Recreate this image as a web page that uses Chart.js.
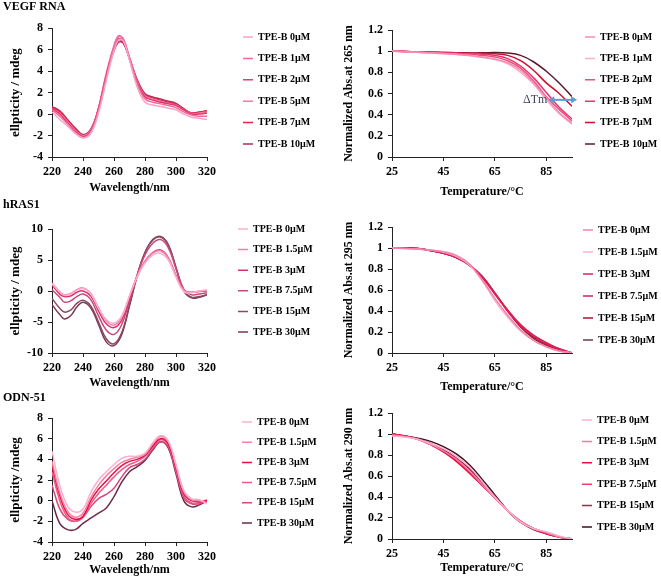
<!DOCTYPE html>
<html>
<head>
<meta charset="utf-8">
<script src="https://cdn.jsdelivr.net/npm/chart.js@4.4.1/dist/chart.umd.min.js"></script>
<style>
  html, body { margin: 0; padding: 0; background: #fff; }
  #wrap { position: relative; width: 661px; height: 580px; overflow: hidden; }
  canvas { position: absolute; }
</style>
</head>
<body>
<div id="wrap">
  <canvas id="c1" width="330" height="196" style="left:0;top:0"></canvas>
  <canvas id="c2" width="331" height="200" style="left:330px;top:0"></canvas>
  <canvas id="c3" width="330" height="195" style="left:0;top:196px"></canvas>
  <canvas id="c4" width="331" height="200" style="left:330px;top:196px"></canvas>
  <canvas id="c5" width="330" height="190" style="left:0;top:390px"></canvas>
  <canvas id="c6" width="331" height="190" style="left:330px;top:390px"></canvas>
</div>
<script>
const serif = '"Liberation Serif", "Times New Roman", serif';
Chart.defaults.font.family = serif;
Chart.defaults.font.weight = 'bold';
Chart.defaults.color = '#000';

// legend labels
const vegfLabels = ['TPE-B 0µM', 'TPE-B 1µM', 'TPE-B 2µM', 'TPE-B 5µM', 'TPE-B 7µM', 'TPE-B 10µM'];
const rasLabels = ['TPE-B 0µM', 'TPE-B 1.5µM', 'TPE-B 3µM', 'TPE-B 7.5µM', 'TPE-B 15µM', 'TPE-B 30µM'];
const odnLabels = ['TPE-B 0µM', 'TPE-B 1.5µM', 'TPE-B 3µM', 'TPE-B 7.5µM', 'TPE-B 15µM', 'TPE-B 30µM'];

// ticks
const wlTicks = [220, 240, 260, 280, 300, 320];
const tempTicks = [25, 45, 65, 85];
const cdTicks8 = [-4, -2, 0, 2, 4, 6, 8];
const cdTicks10 = [-10, -5, 0, 5, 10];
const absTicks = [0, 0.2, 0.4, 0.6, 0.8, 1, 1.2];

// VEGF RNA - CD spectra
const wlVegf = [220, 225, 230, 235, 240, 245, 250, 255, 260, 263, 266, 270, 275, 280, 285, 290, 295, 300, 305, 310, 315, 320];
const vegfCd = [
  [0.2, -0.5, -1.1, -1.8, -2.2, -1.8, 0.1, 3.1, 5.9, 6.9, 6.8, 5.0, 2.5, 1.1, 0.85, 0.7, 0.55, 0.4, 0.0, -0.3, -0.4, -0.5],
  [0.4, -0.2, -0.9, -1.7, -2.2, -1.7, 0.3, 3.4, 6.3, 7.2, 7.0, 5.2, 2.8, 1.4, 1.1, 0.95, 0.8, 0.6, 0.2, -0.1, -0.2, -0.2],
  [0.5, 0.0, -0.8, -1.6, -2.1, -1.6, 0.5, 3.6, 6.2, 7.0, 6.8, 5.1, 2.9, 1.6, 1.3, 1.1, 0.95, 0.8, 0.4, 0.0, 0.0, 0.1],
  [0.5, 0.1, -0.7, -1.5, -2.0, -1.5, 0.6, 3.8, 6.4, 7.3, 7.0, 5.3, 3.0, 1.7, 1.4, 1.2, 1.0, 0.85, 0.4, 0.05, 0.1, 0.2],
  [0.6, 0.2, -0.6, -1.4, -2.0, -1.5, 0.5, 3.6, 6.1, 6.9, 6.7, 5.2, 3.1, 1.8, 1.5, 1.3, 1.1, 0.9, 0.45, 0.1, 0.15, 0.3],
  [0.7, 0.3, -0.5, -1.3, -1.9, -1.4, 0.5, 3.5, 5.9, 6.7, 6.6, 5.2, 3.2, 1.9, 1.6, 1.4, 1.2, 1.0, 0.5, 0.1, 0.2, 0.3],
];
const vegfCdColors = ['#f9a3c9', '#f06a9a', '#e23a6c', '#f07aa0', '#e8204e', '#a83058'];

// VEGF RNA - melting at 265 nm
const tempVegf = [25, 30, 35, 40, 45, 50, 55, 60, 65, 70, 75, 80, 85, 90, 95];
const vegfMelt = [
  [1, 0.995, 0.99, 0.983, 0.977, 0.97, 0.96, 0.945, 0.925, 0.89, 0.82, 0.7, 0.56, 0.42, 0.32],
  [1, 0.995, 0.99, 0.982, 0.975, 0.968, 0.958, 0.94, 0.92, 0.88, 0.8, 0.69, 0.54, 0.41, 0.31],
  [1, 0.996, 0.99, 0.985, 0.98, 0.975, 0.97, 0.96, 0.945, 0.91, 0.84, 0.72, 0.57, 0.45, 0.34],
  [1, 0.997, 0.993, 0.99, 0.985, 0.982, 0.978, 0.972, 0.96, 0.93, 0.86, 0.75, 0.61, 0.47, 0.36],
  [1, 0.997, 0.993, 0.99, 0.987, 0.985, 0.982, 0.98, 0.975, 0.96, 0.91, 0.82, 0.7, 0.6, 0.48],
  [1, 0.997, 0.993, 0.99, 0.988, 0.986, 0.984, 0.984, 0.988, 0.982, 0.96, 0.9, 0.81, 0.7, 0.57],
];
const vegfMeltColors = ['#f48cb4', '#fbb0cf', '#e8507e', '#e8336b', '#c8102e', '#5c1a2c'];
const tmArrow = { from: 85.8, to: 97, at: 0.54 };

// hRAS1 - CD spectra
const wlRas = [220, 225, 228, 232, 236, 240, 245, 250, 255, 260, 265, 270, 275, 280, 285, 290, 295, 300, 305, 310, 315, 320];
const rasCd = [
  [1.2, -0.2, -0.7, -0.5, 0.1, 0.4, -0.5, -2.8, -4.6, -5.2, -4.0, -0.8, 2.3, 4.5, 5.8, 6.1, 5.0, 2.2, -0.1, -0.3, 0.0, 0.2],
  [1.3, -0.1, -0.6, -0.4, 0.2, 0.5, -0.4, -2.7, -4.8, -5.5, -4.2, -0.8, 2.5, 4.8, 6.1, 6.5, 5.3, 2.5, 0.1, -0.2, 0.0, 0.1],
  [1.0, -0.5, -0.9, -0.8, -0.2, 0.0, -0.8, -3.2, -5.3, -5.9, -4.7, -1.2, 2.3, 4.8, 6.2, 6.6, 5.4, 2.5, 0.1, -0.2, -0.1, 0.0],
  [0.2, -1.0, -1.8, -1.6, -0.9, -0.5, -1.4, -4.0, -6.3, -7.0, -5.4, -1.5, 2.6, 5.8, 7.7, 8.3, 7.0, 3.6, 0.3, -0.6, -0.5, -0.3],
  [-1.2, -2.8, -3.4, -3.1, -2.0, -1.5, -2.4, -5.0, -7.7, -8.5, -6.7, -2.2, 2.6, 6.2, 8.2, 8.7, 7.4, 3.8, 0.1, -1.0, -0.9, -0.6],
  [-2.2, -3.8, -4.5, -4.0, -2.6, -1.8, -2.7, -5.4, -8.2, -8.8, -7.0, -2.4, 2.5, 6.2, 8.3, 8.8, 7.5, 3.7, 0.0, -1.1, -1.0, -0.6],
];
const rasCdColors = ['#fbb0cf', '#f480aa', '#e0306a', '#c84a7a', '#8c4a62', '#7a3a52'];

// hRAS1 - melting at 295 nm
const tempRas = [25, 30, 35, 40, 45, 50, 55, 60, 65, 70, 75, 80, 85, 90, 95];
const rasMelt = [
  [1, 0.995, 0.99, 0.98, 0.965, 0.93, 0.85, 0.7, 0.52, 0.36, 0.22, 0.12, 0.06, 0.02, 0],
  [1, 0.995, 0.99, 0.98, 0.96, 0.92, 0.84, 0.69, 0.5, 0.34, 0.21, 0.12, 0.06, 0.02, 0],
  [1, 1, 0.995, 0.977, 0.95, 0.91, 0.84, 0.72, 0.56, 0.4, 0.26, 0.16, 0.09, 0.04, 0],
  [1, 1, 0.995, 0.977, 0.952, 0.91, 0.84, 0.73, 0.57, 0.41, 0.27, 0.17, 0.1, 0.04, 0],
  [1, 1, 0.995, 0.976, 0.95, 0.91, 0.84, 0.73, 0.57, 0.4, 0.25, 0.15, 0.08, 0.03, 0],
  [1, 1, 0.995, 0.975, 0.95, 0.91, 0.84, 0.73, 0.57, 0.4, 0.25, 0.14, 0.07, 0.03, 0],
];
const rasMeltColors = ['#f480aa', '#fbb0cf', '#e0205a', '#d81e50', '#b0102e', '#6a3a48'];

// ODN-51 - CD spectra
const wlOdn = [220, 225, 230, 235, 240, 245, 250, 255, 260, 265, 270, 275, 280, 285, 290, 295, 300, 305, 310, 315, 320];
const odnCd = [
  [4.8, 1.5, -0.5, -1.1, -0.8, 0.8, 2.0, 2.8, 3.5, 4.1, 4.3, 4.3, 4.6, 5.6, 6.3, 5.8, 3.5, 1.0, 0.2, 0.1, -0.3],
  [3.8, 0.8, -1.0, -1.6, -1.2, 0.3, 1.5, 2.4, 3.1, 3.7, 4.0, 4.2, 4.5, 5.5, 6.2, 5.7, 3.4, 0.9, 0.1, 0.0, -0.2],
  [3.4, 0.5, -1.3, -1.8, -1.5, 0.0, 1.1, 1.9, 2.7, 3.4, 3.8, 4.0, 4.4, 5.3, 6.0, 5.5, 3.2, 0.7, 0.0, -0.1, 0.0],
  [2.8, 0.0, -1.6, -2.0, -1.6, -0.3, 0.7, 1.5, 2.3, 3.0, 3.5, 3.8, 4.3, 5.2, 5.9, 5.4, 3.0, 0.5, -0.2, -0.2, 0.1],
  [1.5, -0.8, -1.8, -2.0, -1.6, -0.6, 0.2, 0.6, 1.2, 2.3, 3.2, 3.5, 4.0, 5.0, 5.7, 5.2, 2.8, 0.3, -0.3, -0.3, 0.0],
  [0.0, -2.2, -2.8, -2.8, -2.2, -1.7, -1.2, -0.7, 0.4, 1.8, 2.8, 3.3, 3.9, 4.9, 5.7, 5.1, 2.6, 0.0, -0.6, -0.4, 0.0],
];
const odnCdColors = ['#fbb0cf', '#f480aa', '#e8103e', '#f05a8a', '#d04a7a', '#6a2a48'];

// ODN-51 - melting at 290 nm
const tempOdn = [25, 30, 35, 40, 45, 50, 55, 60, 65, 70, 75, 80, 85, 90, 95];
const odnMelt = [
  [0.98, 0.97, 0.95, 0.91, 0.86, 0.79, 0.69, 0.55, 0.4, 0.27, 0.16, 0.1, 0.07, 0.03, 0],
  [0.99, 0.975, 0.95, 0.9, 0.84, 0.76, 0.65, 0.52, 0.39, 0.27, 0.17, 0.1, 0.06, 0.02, 0],
  [1, 0.98, 0.95, 0.9, 0.83, 0.74, 0.63, 0.51, 0.39, 0.27, 0.17, 0.1, 0.05, 0.02, 0],
  [1, 0.98, 0.95, 0.9, 0.83, 0.75, 0.64, 0.52, 0.4, 0.27, 0.16, 0.1, 0.05, 0.02, 0],
  [1, 0.98, 0.955, 0.91, 0.85, 0.77, 0.67, 0.54, 0.41, 0.27, 0.16, 0.09, 0.05, 0.02, 0],
  [1, 0.98, 0.96, 0.93, 0.88, 0.81, 0.71, 0.57, 0.42, 0.27, 0.16, 0.1, 0.06, 0.02, 0],
];
const odnMeltColors = ['#fbb0cf', '#f07aa4', '#e81040', '#f0406a', '#a02848', '#3c1020'];

// moves the built-in legend so its first entry sits at (x, y)
const legendPos = {
  id: 'legendPos',
  afterLayout(chart, args, opts) {
    const lg = chart.legend;
    if (!lg || opts.x == null) return;
    const pad = lg.options.labels.padding;
    const colH = lg.columnSizes[0].height;
    lg.left = opts.x - pad;
    lg.right = chart.width;
    lg.width = lg.right - lg.left;
    lg.top = opts.y - opts.ih / 2 - pad - 5;
    lg.bottom = lg.top + colH + pad + 10;
    lg.height = lg.bottom - lg.top;
    lg.adjustHitBoxes();
  },
};

// double arrow + label for the Tm shift
const deltaTm = {
  id: 'deltaTm',
  afterDatasetsDraw(chart) {
    const { ctx, scales: { x, y } } = chart;
    const x0 = x.getPixelForValue(tmArrow.from);
    const x1 = x.getPixelForValue(tmArrow.to);
    const yy = y.getPixelForValue(tmArrow.at);
    ctx.save();
    ctx.strokeStyle = '#5b9bd5';
    ctx.fillStyle = '#5b9bd5';
    ctx.lineWidth = 2;
    ctx.beginPath();
    ctx.moveTo(x0 + 4, yy);
    ctx.lineTo(x1 - 4, yy);
    ctx.stroke();
    ctx.beginPath();
    ctx.moveTo(x0, yy); ctx.lineTo(x0 + 6, yy - 3.5); ctx.lineTo(x0 + 6, yy + 3.5);
    ctx.fill();
    ctx.beginPath();
    ctx.moveTo(x1, yy); ctx.lineTo(x1 - 6, yy - 3.5); ctx.lineTo(x1 - 6, yy + 3.5);
    ctx.fill();
    ctx.font = '12px ' + serif;
    ctx.fillStyle = '#3a4656';
    ctx.textAlign = 'right';
    ctx.textBaseline = 'middle';
    ctx.fillText('ΔTm', x0 - 1, yy);
    ctx.restore();
  },
};

function makePanel(id, o) {
  const datasets = o.series.map((s, i) => ({
    label: o.labels[i],
    data: o.xs.map((x, j) => ({ x, y: s[j] })),
    borderColor: o.colors[i],
    backgroundColor: o.colors[i],
    borderWidth: 1.5,
    pointRadius: 0,
    tension: 0.4,
    fill: false,
  }));
  const axisFont = { size: 12, weight: 'bold' };
  return new Chart(document.getElementById(id), {
    type: 'line',
    data: { datasets },
    plugins: o.extra ? [legendPos, o.extra] : [legendPos],
    options: {
      responsive: false,
      animation: false,
      layout: { padding: o.pad },
      scales: {
        x: {
          type: 'linear',
          min: o.xMin,
          max: o.xMax,
          afterBuildTicks: (s) => { s.ticks = o.xTicks.map((v) => ({ value: v })); },
          afterFit: (s) => { s.height = o.xH; },
          grid: { drawOnChartArea: false, tickLength: 4, color: '#222' },
          border: { color: '#222' },
          ticks: { font: axisFont, padding: 4, maxRotation: 0, color: '#000', callback: (v) => String(v) },
          title: { display: true, text: o.xTitle, font: axisFont, color: '#000', padding: { top: 0, bottom: 0 } },
        },
        y: {
          type: 'linear',
          min: o.yMin,
          max: o.yMax,
          afterBuildTicks: (s) => { s.ticks = o.yTicks.map((v) => ({ value: v })); },
          afterFit: (s) => { s.width = o.yW; },
          grid: { drawOnChartArea: false, tickLength: 4, color: '#222' },
          border: { color: '#222' },
          ticks: { font: axisFont, padding: 5, color: '#000', callback: (v) => String(v) },
          title: { display: true, text: o.yTitle, font: { size: o.yTitleSize, weight: 'bold' }, color: '#000', padding: { top: o.yTitlePad, bottom: 0 } },
        },
      },
      plugins: {
        title: o.title
          ? { display: true, text: o.title, align: 'start', color: '#000', font: { size: 12, weight: 'bold' }, padding: o.titlePad }
          : { display: false },
        legend: {
          position: 'right',
          maxWidth: 40,
          labels: {
            usePointStyle: true,
            pointStyle: 'line',
            pointStyleWidth: 10,
            padding: o.lgPad,
            color: '#000',
            font: { size: 10, weight: 'bold' },
          },
        },
        legendPos: { x: o.lgX, y: o.lgY, ih: 10 },
        tooltip: { enabled: false },
      },
    },
  });
}

makePanel('c1', {
  xs: wlVegf, series: vegfCd, labels: vegfLabels, colors: vegfCdColors,
  xMin: 220, xMax: 320, xTicks: wlTicks, yMin: -4, yMax: 8, yTicks: cdTicks8,
  xTitle: 'Wavelength/nm', yTitle: 'ellpticity / mdeg', title: 'VEGF RNA',
  pad: { left: 3, top: 0, right: 83, bottom: 0.8 }, titlePad: { top: 0, bottom: 13.8 },
  yW: 49, xH: 38.2, yTitlePad: 5.2, yTitleSize: 13, lgX: 243, lgY: 37, lgPad: 11.4,
});

makePanel('c2', {
  xs: tempVegf, series: vegfMelt, labels: vegfLabels, colors: vegfMeltColors,
  xMin: 25, xMax: 95, xTicks: tempTicks, yMin: 0, yMax: 1.2, yTicks: absTicks,
  xTitle: 'Temperature/°C', yTitle: 'Normalized Abs.at 265 nm',
  pad: { left: 0, top: 30, right: 49, bottom: 0.8 },
  yW: 62, xH: 42.2, yTitlePad: 11.8, yTitleSize: 12, lgX: 255, lgY: 37, lgPad: 11.4, extra: deltaTm,
});

makePanel('c3', {
  xs: wlRas, series: rasCd, labels: rasLabels, colors: rasCdColors,
  xMin: 220, xMax: 320, xTicks: wlTicks, yMin: -10, yMax: 10, yTicks: cdTicks10,
  xTitle: 'Wavelength/nm', yTitle: 'ellpticity / mdeg', title: 'hRAS1',
  pad: { left: 3, top: 0, right: 83, bottom: 0.8 }, titlePad: { top: 1.8, bottom: 16.8 },
  yW: 49, xH: 37.2, yTitlePad: 5.2, yTitleSize: 13, lgX: 238, lgY: 33, lgPad: 10.6,
});

makePanel('c4', {
  xs: tempRas, series: rasMelt, labels: rasLabels, colors: rasMeltColors,
  xMin: 25, xMax: 95, xTicks: tempTicks, yMin: 0, yMax: 1.2, yTicks: absTicks,
  xTitle: 'Temperature/°C', yTitle: 'Normalized Abs.at 295 nm',
  pad: { left: 0, top: 31, right: 49, bottom: 1.8 },
  yW: 62, xH: 41.2, yTitlePad: 11.8, yTitleSize: 12, lgX: 253, lgY: 34, lgPad: 12,
});

makePanel('c5', {
  xs: wlOdn, series: odnCd, labels: odnLabels, colors: odnCdColors,
  xMin: 220, xMax: 320, xTicks: wlTicks, yMin: -4, yMax: 8, yTicks: cdTicks8,
  xTitle: 'Wavelength/nm', yTitle: 'ellpticity /mdeg', title: 'ODN-51',
  pad: { left: 3, top: 0, right: 83, bottom: 2.8 }, titlePad: { top: 0.8, bottom: 12.8 },
  yW: 49, xH: 35.2, yTitlePad: 5.2, yTitleSize: 13, lgX: 242, lgY: 32, lgPad: 10.2,
});

makePanel('c6', {
  xs: tempOdn, series: odnMelt, labels: odnLabels, colors: odnMeltColors,
  xMin: 25, xMax: 95, xTicks: tempTicks, yMin: 0, yMax: 1.2, yTicks: absTicks,
  xTitle: 'Temperature/°C', yTitle: 'Normalized Abs.at 290 nm',
  pad: { left: 0, top: 23, right: 49, bottom: 4.8 },
  yW: 62, xH: 36.2, yTitlePad: 11.8, yTitleSize: 12, lgX: 252, lgY: 30, lgPad: 11.4,
});
</script>
</body>
</html>
